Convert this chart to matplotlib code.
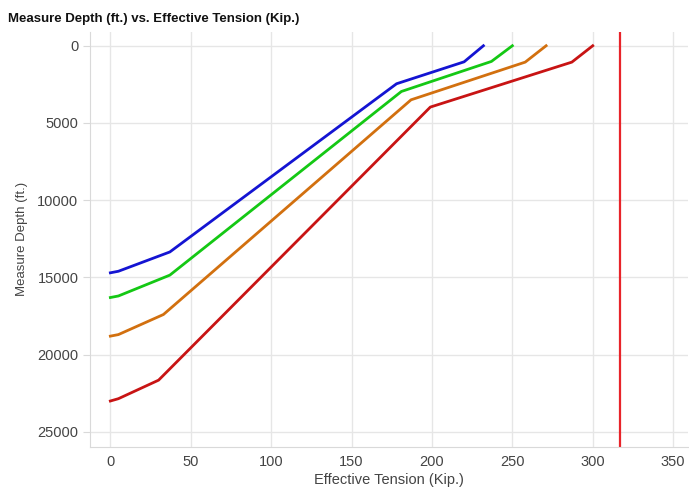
import matplotlib.pyplot as plt

plt.rcParams['font.family'] = ['Liberation Sans', 'DejaVu Sans']

# tension (Kip.) / measured depth (ft.) for each string
blue_t = [0, 5, 37, 178, 220, 232]
blue_d = [14700, 14600, 13350, 2460, 1040, 0]
green_t = [0, 5, 37, 181, 237, 250]
green_d = [16300, 16200, 14850, 2960, 1015, 0]
orange_t = [0, 5, 33, 187, 258, 271]
orange_d = [18800, 18700, 17400, 3500, 1060, 0]
red_t = [0, 5, 30, 199, 287, 300]
red_d = [23000, 22850, 21650, 3970, 1060, 0]
limit_t = 317

fig = plt.figure(figsize=(6.89, 4.9), dpi=100)
ax = fig.add_axes([0.131, 0.088, 0.867, 0.847])

ax.plot(blue_t, blue_d, color='#1414d2', lw=2)
ax.plot(green_t, green_d, color='#14c814', lw=2)
ax.plot(orange_t, orange_d, color='#d2700f', lw=2)
ax.plot(red_t, red_d, color='#c81414', lw=2)
ax.axvline(limit_t, color='#e8242a', lw=1.6)

ax.set_xlim(-12.5, 359)
ax.set_ylim(25970, -900)
ax.set_xticks(range(0, 351, 50))
ax.set_yticks(range(0, 25001, 5000))

ax.grid(True, color='#e6e6e6', lw=1)
ax.set_axisbelow(True)
for s in ['top', 'right']:
    ax.spines[s].set_visible(False)
for s in ['left', 'bottom']:
    ax.spines[s].set_color('#d9d9d9')
ax.tick_params(axis='both', colors='#d9d9d9', labelcolor='#444444', labelsize=10.5, length=5)
ax.tick_params(axis='x', length=0, pad=6)

ax.set_xlabel('Effective Tension (Kip.)', fontsize=10.5, color='#444444', labelpad=3)
ax.set_ylabel('Measure Depth (ft.)', fontsize=9.5, color='#444444', labelpad=7)
fig.text(0.012, 0.962, 'Measure Depth (ft.) vs. Effective Tension (Kip.)',
         fontsize=9.5, fontweight='bold', color='#111111', va='center')

fig.savefig('out.png', dpi=100)
